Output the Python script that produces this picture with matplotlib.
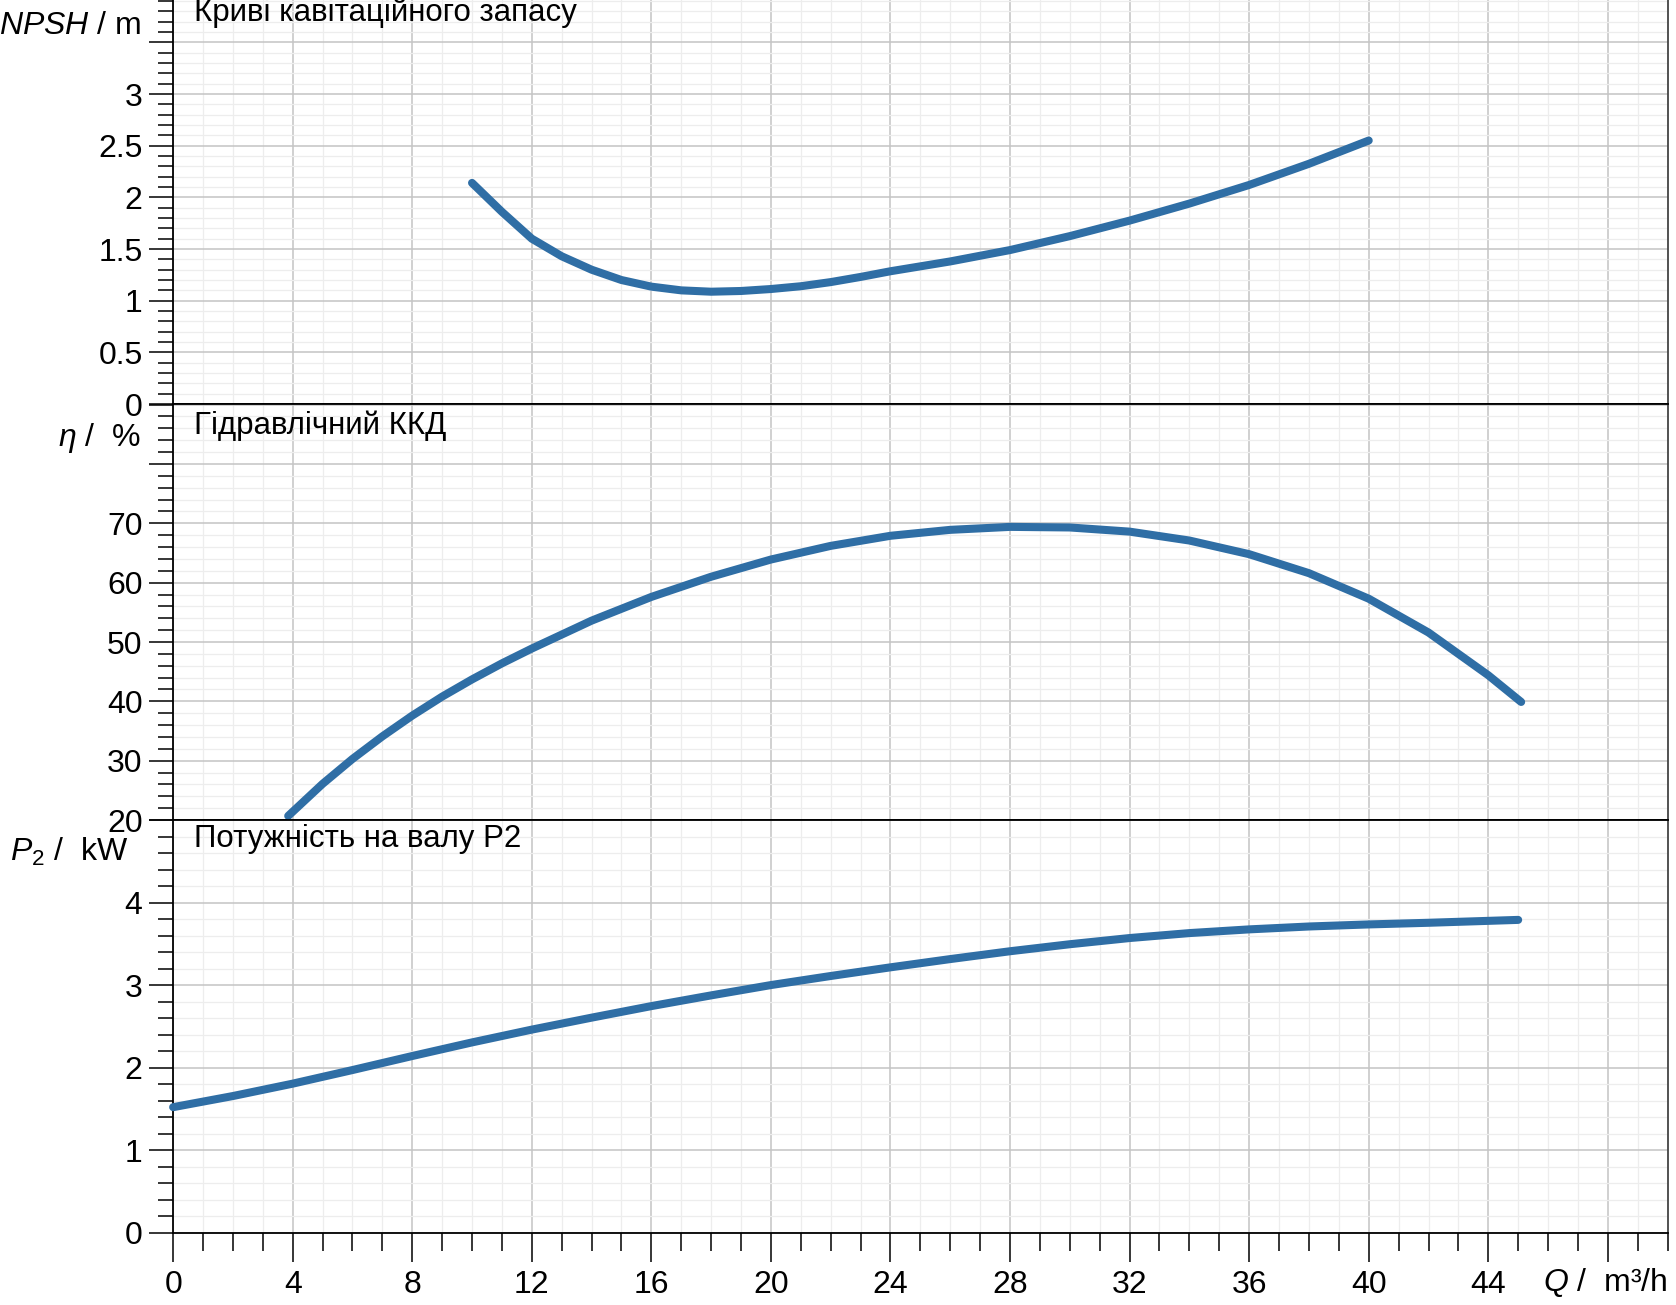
import numpy as np
import matplotlib
matplotlib.use("Agg")
import matplotlib.pyplot as plt
from matplotlib.ticker import MultipleLocator

plt.rcParams["font.family"] = ["Liberation Sans", "DejaVu Sans"]
plt.rcParams["mathtext.fontset"] = "custom"
plt.rcParams["mathtext.rm"] = "Liberation Sans"
plt.rcParams["mathtext.it"] = "Liberation Sans:italic"

# Дані
q_npsh = [10, 11, 12, 13, 14, 15, 16, 17, 18, 19, 20, 21, 22, 23, 24, 26, 28, 30, 32, 34, 36, 38, 40]
npsh = [2.14, 1.86, 1.60, 1.43, 1.30, 1.20, 1.136, 1.10, 1.087, 1.094, 1.113, 1.14, 1.18, 1.23, 1.285,
        1.38, 1.49, 1.625, 1.775, 1.94, 2.12, 2.325, 2.55]

q_eta = [3.85, 5, 6, 7, 8, 9, 10, 11, 12, 14, 16, 18, 20, 22, 24, 26, 28, 30, 32, 34, 36, 38, 40, 42, 44, 45.1]
eta = [20.7, 26.1, 30.3, 34.1, 37.6, 40.8, 43.7, 46.4, 48.9, 53.6, 57.6, 61.0, 63.9, 66.2, 67.9, 68.9,
       69.4, 69.3, 68.6, 67.1, 64.8, 61.6, 57.3, 51.6, 44.4, 39.9]

q_p2 = [0, 2, 4, 6, 8, 10, 12, 14, 16, 18, 20, 22, 24, 26, 28, 30, 32, 34, 36, 38, 40, 42, 45]
p2 = [1.52, 1.655, 1.805, 1.97, 2.14, 2.305, 2.46, 2.605, 2.745, 2.875, 3.0, 3.11, 3.215, 3.315, 3.41,
      3.495, 3.57, 3.63, 3.675, 3.71, 3.735, 3.755, 3.79]

x_ticks = [0, 4, 8, 12, 16, 20, 24, 28, 32, 36, 40, 44, 48]
x_labels = ["0", "4", "8", "12", "16", "20", "24", "28", "32", "36", "40", "44", ""]

npsh_ticks = [0, 0.5, 1, 1.5, 2, 2.5, 3, 3.5]
npsh_labels = ["0", "0.5", "1", "1.5", "2", "2.5", "3", ""]
eta_ticks = [20, 30, 40, 50, 60, 70, 80, 90]
eta_labels = ["20", "30", "40", "50", "60", "70", "", ""]
p2_ticks = [0, 1, 2, 3, 4, 5]
p2_labels = ["0", "1", "2", "3", "4", ""]

titles = ["Криві кавітаційного запасу", "Гідравлічний ККД", "Потужність на валу P2"]

colour = "#2f6ea5"
fs = 23
fs_title = 22.5

fig = plt.figure(figsize=(16.76, 13.05), dpi=100)
left, right = 0.1033, 0.995
bounds = [(0.6904, 1.0), (0.3716, 0.6904), (0.0555, 0.3716)]
axes = []
for b0, b1 in bounds:
    axes.append(fig.add_axes([left, b0, right - left, b1 - b0]))

ylims = [(0, 3.91), (20, 90.1), (0, 4.98)]
minors = [0.1, 2, 0.2]
yticks = [npsh_ticks, eta_ticks, p2_ticks]
ylabels = [npsh_labels, eta_labels, p2_labels]
data = [(q_npsh, npsh), (q_eta, eta), (q_p2, p2)]
title_y = [0.968, 0.948, 0.954]

for i, ax in enumerate(axes):
    ax.set_xlim(0, 50)
    ax.set_ylim(*ylims[i])
    ax.set_yticks(yticks[i])
    ax.set_yticklabels(ylabels[i], fontsize=fs)
    ax.yaxis.set_minor_locator(MultipleLocator(minors[i]))
    ax.set_xticks(x_ticks)
    ax.xaxis.set_minor_locator(MultipleLocator(1))
    ax.grid(which="major", color="#c4c4c4", linewidth=1.1)
    ax.grid(which="minor", color="#ededed", linewidth=0.9)
    ax.set_axisbelow(True)
    ax.tick_params(axis="y", which="major", direction="out", length=17, width=1.1, pad=5)
    ax.tick_params(axis="y", which="minor", direction="out", length=11, width=1.1)
    for s in ax.spines.values():
        s.set_linewidth(1.3)
        s.set_color("black")
    ax.spines["right"].set_color("#444444")
    if i < 2:
        ax.tick_params(axis="x", which="both", length=0, labelbottom=False)
    else:
        ax.set_xticklabels(x_labels, fontsize=fs)
        ax.tick_params(axis="x", which="major", direction="out", length=21, width=1.1, pad=6)
        ax.tick_params(axis="x", which="minor", direction="out", length=13, width=1.1)
    if i == 0:
        ax.spines["top"].set_visible(False)
    ax.plot(data[i][0], data[i][1], color=colour, linewidth=5.8,
            solid_capstyle="round", solid_joinstyle="round", clip_on=False, zorder=3)
    ax.text(0.0137, title_y[i], titles[i], transform=ax.transAxes, fontsize=fs_title,
            va="center", ha="left")

fig.text(0.0841, 0.980, r"$NPSH$ / m", fontsize=fs, ha="right", va="center")
fig.text(0.0841, 0.6644, r"$\eta$ /  %", fontsize=fs, ha="right", va="center")
fig.text(0.0766, 0.347, r"$P_{2}$ /  kW", fontsize=fs, ha="right", va="center")
fig.text(0.995, 0.017, r"$Q$ /  m³/h", fontsize=fs, ha="right", va="center")

fig.savefig("out.png", dpi=100)
